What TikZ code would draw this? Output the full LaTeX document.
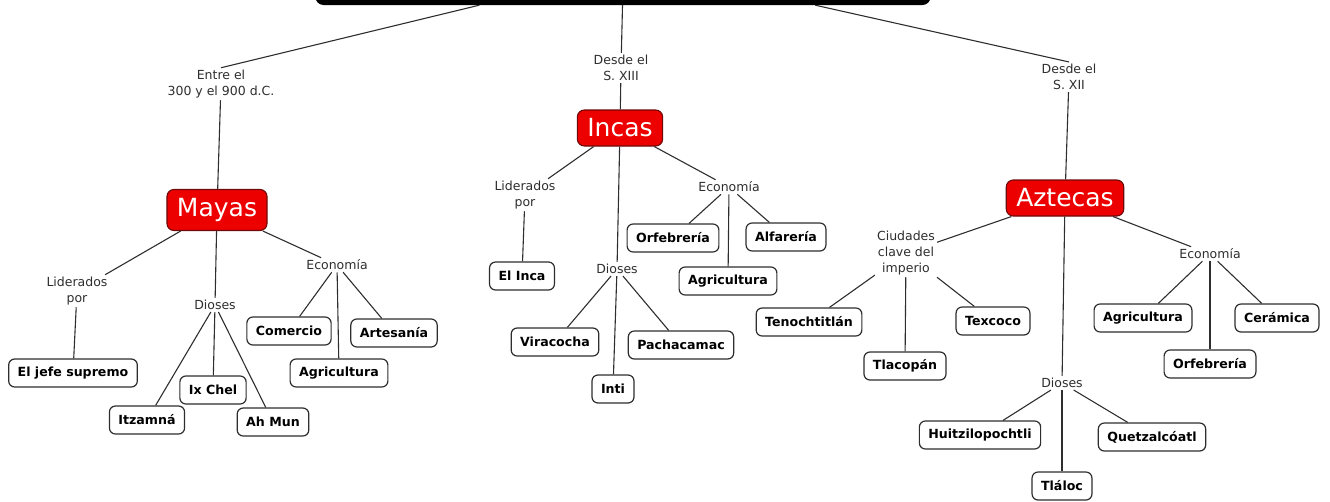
\documentclass[tikz,border=0pt]{standalone}
\usepackage{fontspec}
\setmainfont{DejaVu Sans}

\begin{document}
\begin{tikzpicture}[x=1pt,y=-1pt,
	tema/.style={draw=darkred,fill=mapred,rounded corners=7pt,text=white,font=\fontsize{25}{28}\selectfont,inner xsep=10pt,minimum height=36pt,line width=1.1pt},
	hoja/.style={draw=linegray,fill=white,rounded corners=6pt,font=\fontsize{12.6}{15}\selectfont\bfseries,inner xsep=9pt,minimum height=28pt,line width=1.2pt},
	enlace/.style={text=linegray,font=\fontsize{12.5}{16}\selectfont,align=center,inner sep=2pt},
	linea/.style={draw=linegray,line width=1.1pt}]
			\definecolor{mapred}{HTML}{EC0000}
			\definecolor{darkred}{HTML}{6E0A0A}
			\definecolor{linegray}{HTML}{2E2E2E}
			\useasboundingbox (0,0) rectangle (1330,501);
			\clip (0,0) rectangle (1330,501);
			% titulo (abgeschnitten)
			\node[fill=black,rounded corners=8pt,minimum width=615pt,minimum height=40pt,inner sep=0pt] (titulo) at (623,-15) {};
			
			% Mayas
			\node[tema,minimum height=41pt] (mayas) at (217,210) {Mayas};
			\node[enlace] (m_fecha) at (221,84) {Entre el\\300 y el 900 d.C.};
			\node[enlace] (m_lid) at (77,291) {Liderados\\por};
			\node[hoja] (m_jefe) at (73,373) {El jefe supremo};
			\node[enlace] (m_dioses) at (215,305) {Dioses};
			\node[hoja] (m_itz) at (147,420) {Itzamná};
			\node[hoja] (m_ix) at (213,390) {Ix Chel};
			\node[hoja] (m_ah) at (273,422) {Ah Mun};
			\node[enlace] (m_eco) at (337,265) {Economía};
			\node[hoja] (m_com) at (289,331) {Comercio};
			\node[hoja] (m_agr) at (339,373) {Agricultura};
			\node[hoja] (m_art) at (394,333) {Artesanía};
			
			% Incas
			\node[tema] (incas) at (620,128) {Incas};
			\node[enlace] (i_fecha) at (621,68) {Desde el\\S. XIII};
			\node[enlace] (i_lid) at (525,195) {Liderados\\por};
			\node[hoja] (i_inca) at (522,276) {El Inca};
			\node[enlace] (i_dioses) at (617,269) {Dioses};
			\node[hoja] (i_vir) at (555,342) {Viracocha};
			\node[hoja] (i_inti) at (613,389) {Inti};
			\node[hoja] (i_pach) at (681,345) {Pachacamac};
			\node[enlace] (i_eco) at (729,187) {Economía};
			\node[hoja] (i_orf) at (673,238) {Orfebrería};
			\node[hoja] (i_agr) at (728,281) {Agricultura};
			\node[hoja] (i_alf) at (786,237) {Alfarería};
			
			% Aztecas
			\node[tema] (aztecas) at (1065,198) {Aztecas};
			\node[enlace] (a_fecha) at (1069,77) {Desde el\\S. XII};
			\node[enlace] (a_ciud) at (906,253) {Ciudades\\clave del\\imperio};
			\node[hoja] (a_teno) at (809,322) {Tenochtitlán};
			\node[hoja] (a_tlac) at (905,366) {Tlacopán};
			\node[hoja] (a_tex) at (993,321) {Texcoco};
			\node[enlace] (a_dioses) at (1062,383) {Dioses};
			\node[hoja] (a_huit) at (980,435) {Huitzilopochtli};
			\node[hoja] (a_tlal) at (1062,486) {Tláloc};
			\node[hoja] (a_quet) at (1152,437) {Quetzalcóatl};
			\node[enlace] (a_eco) at (1210,254) {Economía};
			\node[hoja] (a_agr) at (1143,318) {Agricultura};
			\node[hoja] (a_orf) at (1210,364) {Orfebrería};
			\node[hoja] (a_cer) at (1277,318) {Cerámica};
			
			% Verbindungen titulo
			\draw[linea] (titulo.188) -- (m_fecha.north);
			\draw[linea] (titulo) -- (i_fecha);
			\draw[linea] (titulo.354) -- (a_fecha.north);
			% Verbindungen Mayas
			\draw[linea] (m_fecha) -- (mayas);
			\draw[linea] (mayas) -- (m_lid) -- (m_jefe);
			\draw[linea] (mayas) -- (m_dioses);
			\draw[linea] (m_dioses) -- (m_itz);
			\draw[linea] (m_dioses) -- (m_ix);
			\draw[linea] (m_dioses) -- (m_ah);
			\draw[linea] (mayas) -- (m_eco);
			\draw[linea] (m_eco) -- (m_com);
			\draw[linea] (m_eco) -- (m_agr);
			\draw[linea] (m_eco) -- (m_art);
			% Verbindungen Incas
			\draw[linea] (i_fecha) -- (incas);
			\draw[linea] (incas) -- (i_lid) -- (i_inca);
			\draw[linea] (incas) -- (i_dioses);
			\draw[linea] (i_dioses) -- (i_vir);
			\draw[linea] (i_dioses) -- (i_inti);
			\draw[linea] (i_dioses) -- (i_pach);
			\draw[linea] (incas) -- (i_eco);
			\draw[linea] (i_eco) -- (i_orf);
			\draw[linea] (i_eco) -- (i_agr);
			\draw[linea] (i_eco) -- (i_alf);
			% Verbindungen Aztecas
			\draw[linea] (a_fecha) -- (aztecas);
			\draw[linea] (aztecas) -- (a_ciud);
			\draw[linea] (a_ciud) -- (a_teno);
			\draw[linea] (a_ciud) -- (a_tlac);
			\draw[linea] (a_ciud) -- (a_tex);
			\draw[linea] (aztecas) -- (a_dioses);
			\draw[linea] (a_dioses) -- (a_huit);
			\draw[linea] (a_dioses) -- (a_tlal);
			\draw[linea] (a_dioses) -- (a_quet);
			\draw[linea] (aztecas) -- (a_eco);
			\draw[linea] (a_eco) -- (a_agr);
			\draw[linea] (a_eco) -- (a_orf);
			\draw[linea] (a_eco) -- (a_cer);
			
			\end{tikzpicture}
\end{document}
